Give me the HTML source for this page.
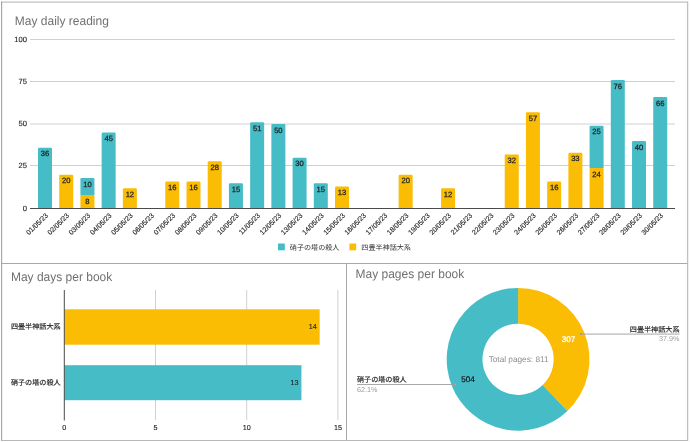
<!DOCTYPE html>
<html><head><meta charset="utf-8"><style>
html,body{margin:0;padding:0;background:#fff;}
body{width:690px;height:442px;overflow:hidden;position:relative;}
svg{position:absolute;left:0;top:0;display:block;will-change:transform;}
text{font-family:"Liberation Sans","Noto Sans CJK JP",Arial,sans-serif;text-rendering:geometricPrecision;}
.b{stroke:#222;stroke-width:0.3px;paint-order:stroke;}
.cjk.b{stroke-width:0.15px;}
.d{stroke-width:0.14px;}
.y{stroke-width:0.12px;}
.v{stroke-width:0.25px;}
.cjk{font-family:"Liberation Sans","Noto Sans CJK JP",sans-serif;}
</style></head><body>
<svg width="690" height="442" viewBox="0 0 690 442">
<rect x="0" y="0" width="690" height="442" fill="#fff"/>

<g fill="none" stroke="#a8a8a8" stroke-width="1">
<line x1="1" y1="2.2" x2="688" y2="2.2" stroke="#c0c0c0" stroke-width="1.3"/>
<line x1="1.6" y1="1.5" x2="1.6" y2="441" stroke="#a8a8a8" stroke-width="1.2"/>
<line x1="687.6" y1="1.5" x2="687.6" y2="441" stroke="#c0c0c0" stroke-width="1.3"/>
<line x1="1.5" y1="263.5" x2="687.5" y2="263.5" stroke="#a8a8a8"/>
<line x1="346.5" y1="263.5" x2="346.5" y2="441" stroke="#a8a8a8"/>
<line x1="1.5" y1="440.5" x2="687.5" y2="440.5" stroke="#b8b8b8"/>
</g>
<text transform="translate(14.8 24.6) scale(1 1.04)" font-size="12" fill="#707070">May daily reading</text>
<text x="26.9" y="210.90" font-size="7.6" fill="#222" class="b y" text-anchor="end">0</text>
<line x1="30" y1="165.50" x2="675" y2="165.50" stroke="#d0d0d0" stroke-width="1"/>
<text x="26.9" y="167.90" font-size="7.6" fill="#222" class="b y" text-anchor="end">25</text>
<line x1="30" y1="124.00" x2="675" y2="124.00" stroke="#d0d0d0" stroke-width="1"/>
<text x="26.9" y="126.40" font-size="7.6" fill="#222" class="b y" text-anchor="end">50</text>
<line x1="30" y1="81.50" x2="675" y2="81.50" stroke="#d0d0d0" stroke-width="1"/>
<text x="26.9" y="83.90" font-size="7.6" fill="#222" class="b y" text-anchor="end">75</text>
<line x1="30" y1="39.50" x2="675" y2="39.50" stroke="#d0d0d0" stroke-width="1"/>
<text x="26.9" y="41.90" font-size="7.6" fill="#222" class="b y" text-anchor="end">100</text>
<path d="M38.00,208.00 V148.86 Q38.00,147.66 39.20,147.66 H50.80 Q52.00,147.66 52.00,148.86 V208.00 Z" fill="#46bdc6"/>
<text x="45.00" y="156.26" font-size="7.6" fill="#222" class="b v" text-anchor="middle">36</text>
<path d="M59.22,208.00 V175.90 Q59.22,174.70 60.42,174.70 H72.02 Q73.22,174.70 73.22,175.90 V208.00 Z" fill="#fbbc04"/>
<text x="66.22" y="183.30" font-size="7.6" fill="#222" class="b v" text-anchor="middle">20</text>
<rect x="80.43" y="194.98" width="14" height="13.02" fill="#fbbc04"/>
<text x="87.43" y="203.58" font-size="7.6" fill="#222" class="b v" text-anchor="middle">8</text>
<path d="M80.43,194.98 V179.28 Q80.43,178.08 81.63,178.08 H93.23 Q94.43,178.08 94.43,179.28 V194.98 Z" fill="#46bdc6"/>
<text x="87.43" y="186.68" font-size="7.6" fill="#222" class="b v" text-anchor="middle">10</text>
<path d="M101.64,208.00 V133.65 Q101.64,132.45 102.84,132.45 H114.44 Q115.64,132.45 115.64,133.65 V208.00 Z" fill="#46bdc6"/>
<text x="108.64" y="141.05" font-size="7.6" fill="#222" class="b v" text-anchor="middle">45</text>
<path d="M122.86,208.00 V189.42 Q122.86,188.22 124.06,188.22 H135.66 Q136.86,188.22 136.86,189.42 V208.00 Z" fill="#fbbc04"/>
<text x="129.86" y="196.82" font-size="7.6" fill="#222" class="b v" text-anchor="middle">12</text>
<path d="M165.29,208.00 V182.66 Q165.29,181.46 166.49,181.46 H178.09 Q179.29,181.46 179.29,182.66 V208.00 Z" fill="#fbbc04"/>
<text x="172.29" y="190.06" font-size="7.6" fill="#222" class="b v" text-anchor="middle">16</text>
<path d="M186.50,208.00 V182.66 Q186.50,181.46 187.70,181.46 H199.31 Q200.50,181.46 200.50,182.66 V208.00 Z" fill="#fbbc04"/>
<text x="193.50" y="190.06" font-size="7.6" fill="#222" class="b v" text-anchor="middle">16</text>
<path d="M207.72,208.00 V162.38 Q207.72,161.18 208.92,161.18 H220.52 Q221.72,161.18 221.72,162.38 V208.00 Z" fill="#fbbc04"/>
<text x="214.72" y="169.78" font-size="7.6" fill="#222" class="b v" text-anchor="middle">28</text>
<path d="M228.94,208.00 V184.35 Q228.94,183.15 230.13,183.15 H241.74 Q242.94,183.15 242.94,184.35 V208.00 Z" fill="#46bdc6"/>
<text x="235.94" y="191.75" font-size="7.6" fill="#222" class="b v" text-anchor="middle">15</text>
<path d="M250.15,208.00 V123.51 Q250.15,122.31 251.35,122.31 H262.95 Q264.15,122.31 264.15,123.51 V208.00 Z" fill="#46bdc6"/>
<text x="257.15" y="130.91" font-size="7.6" fill="#222" class="b v" text-anchor="middle">51</text>
<path d="M271.37,208.00 V125.20 Q271.37,124.00 272.56,124.00 H284.17 Q285.37,124.00 285.37,125.20 V208.00 Z" fill="#46bdc6"/>
<text x="278.37" y="132.60" font-size="7.6" fill="#222" class="b v" text-anchor="middle">50</text>
<path d="M292.58,208.00 V159.00 Q292.58,157.80 293.78,157.80 H305.38 Q306.58,157.80 306.58,159.00 V208.00 Z" fill="#46bdc6"/>
<text x="299.58" y="166.40" font-size="7.6" fill="#222" class="b v" text-anchor="middle">30</text>
<path d="M313.80,208.00 V184.35 Q313.80,183.15 315.00,183.15 H326.60 Q327.80,183.15 327.80,184.35 V208.00 Z" fill="#46bdc6"/>
<text x="320.80" y="191.75" font-size="7.6" fill="#222" class="b v" text-anchor="middle">15</text>
<path d="M335.01,208.00 V187.73 Q335.01,186.53 336.21,186.53 H347.81 Q349.01,186.53 349.01,187.73 V208.00 Z" fill="#fbbc04"/>
<text x="342.01" y="195.13" font-size="7.6" fill="#222" class="b v" text-anchor="middle">13</text>
<path d="M398.65,208.00 V175.90 Q398.65,174.70 399.85,174.70 H411.45 Q412.65,174.70 412.65,175.90 V208.00 Z" fill="#fbbc04"/>
<text x="405.65" y="183.30" font-size="7.6" fill="#222" class="b v" text-anchor="middle">20</text>
<path d="M441.08,208.00 V189.42 Q441.08,188.22 442.28,188.22 H453.88 Q455.08,188.22 455.08,189.42 V208.00 Z" fill="#fbbc04"/>
<text x="448.08" y="196.82" font-size="7.6" fill="#222" class="b v" text-anchor="middle">12</text>
<path d="M504.73,208.00 V155.62 Q504.73,154.42 505.93,154.42 H517.53 Q518.73,154.42 518.73,155.62 V208.00 Z" fill="#fbbc04"/>
<text x="511.73" y="163.02" font-size="7.6" fill="#222" class="b v" text-anchor="middle">32</text>
<path d="M525.94,208.00 V113.37 Q525.94,112.17 527.14,112.17 H538.74 Q539.94,112.17 539.94,113.37 V208.00 Z" fill="#fbbc04"/>
<text x="532.94" y="120.77" font-size="7.6" fill="#222" class="b v" text-anchor="middle">57</text>
<path d="M547.16,208.00 V182.66 Q547.16,181.46 548.36,181.46 H559.96 Q561.16,181.46 561.16,182.66 V208.00 Z" fill="#fbbc04"/>
<text x="554.16" y="190.06" font-size="7.6" fill="#222" class="b v" text-anchor="middle">16</text>
<path d="M568.38,208.00 V153.93 Q568.38,152.73 569.58,152.73 H581.17 Q582.38,152.73 582.38,153.93 V208.00 Z" fill="#fbbc04"/>
<text x="575.38" y="161.33" font-size="7.6" fill="#222" class="b v" text-anchor="middle">33</text>
<rect x="589.59" y="167.94" width="14" height="40.06" fill="#fbbc04"/>
<text x="596.59" y="176.54" font-size="7.6" fill="#222" class="b v" text-anchor="middle">24</text>
<path d="M589.59,167.94 V126.89 Q589.59,125.69 590.79,125.69 H602.39 Q603.59,125.69 603.59,126.89 V167.94 Z" fill="#46bdc6"/>
<text x="596.59" y="134.29" font-size="7.6" fill="#222" class="b v" text-anchor="middle">25</text>
<path d="M610.80,208.00 V81.26 Q610.80,80.06 612.00,80.06 H623.60 Q624.80,80.06 624.80,81.26 V208.00 Z" fill="#46bdc6"/>
<text x="617.80" y="88.66" font-size="7.6" fill="#222" class="b v" text-anchor="middle">76</text>
<path d="M632.02,208.00 V142.10 Q632.02,140.90 633.22,140.90 H644.82 Q646.02,140.90 646.02,142.10 V208.00 Z" fill="#46bdc6"/>
<text x="639.02" y="149.50" font-size="7.6" fill="#222" class="b v" text-anchor="middle">40</text>
<path d="M653.24,208.00 V98.16 Q653.24,96.96 654.44,96.96 H666.03 Q667.24,96.96 667.24,98.16 V208.00 Z" fill="#46bdc6"/>
<text x="660.24" y="105.56" font-size="7.6" fill="#222" class="b v" text-anchor="middle">66</text>
<line x1="30" y1="208.5" x2="675" y2="208.5" stroke="#4a4a4a" stroke-width="1"/>
<text x="48.40" y="216.10" font-size="7.0" fill="#222" class="b d" text-anchor="end" transform="rotate(-45 48.40 216.10)">01/05/23</text>
<text x="69.62" y="216.10" font-size="7.0" fill="#222" class="b d" text-anchor="end" transform="rotate(-45 69.62 216.10)">02/05/23</text>
<text x="90.83" y="216.10" font-size="7.0" fill="#222" class="b d" text-anchor="end" transform="rotate(-45 90.83 216.10)">03/05/23</text>
<text x="112.05" y="216.10" font-size="7.0" fill="#222" class="b d" text-anchor="end" transform="rotate(-45 112.05 216.10)">04/05/23</text>
<text x="133.26" y="216.10" font-size="7.0" fill="#222" class="b d" text-anchor="end" transform="rotate(-45 133.26 216.10)">05/05/23</text>
<text x="154.47" y="216.10" font-size="7.0" fill="#222" class="b d" text-anchor="end" transform="rotate(-45 154.47 216.10)">06/05/23</text>
<text x="175.69" y="216.10" font-size="7.0" fill="#222" class="b d" text-anchor="end" transform="rotate(-45 175.69 216.10)">07/05/23</text>
<text x="196.91" y="216.10" font-size="7.0" fill="#222" class="b d" text-anchor="end" transform="rotate(-45 196.91 216.10)">08/05/23</text>
<text x="218.12" y="216.10" font-size="7.0" fill="#222" class="b d" text-anchor="end" transform="rotate(-45 218.12 216.10)">09/05/23</text>
<text x="239.34" y="216.10" font-size="7.0" fill="#222" class="b d" text-anchor="end" transform="rotate(-45 239.34 216.10)">10/05/23</text>
<text x="260.55" y="216.10" font-size="7.0" fill="#222" class="b d" text-anchor="end" transform="rotate(-45 260.55 216.10)">11/05/23</text>
<text x="281.76" y="216.10" font-size="7.0" fill="#222" class="b d" text-anchor="end" transform="rotate(-45 281.76 216.10)">12/05/23</text>
<text x="302.98" y="216.10" font-size="7.0" fill="#222" class="b d" text-anchor="end" transform="rotate(-45 302.98 216.10)">13/05/23</text>
<text x="324.19" y="216.10" font-size="7.0" fill="#222" class="b d" text-anchor="end" transform="rotate(-45 324.19 216.10)">14/05/23</text>
<text x="345.41" y="216.10" font-size="7.0" fill="#222" class="b d" text-anchor="end" transform="rotate(-45 345.41 216.10)">15/05/23</text>
<text x="366.62" y="216.10" font-size="7.0" fill="#222" class="b d" text-anchor="end" transform="rotate(-45 366.62 216.10)">16/05/23</text>
<text x="387.84" y="216.10" font-size="7.0" fill="#222" class="b d" text-anchor="end" transform="rotate(-45 387.84 216.10)">17/05/23</text>
<text x="409.05" y="216.10" font-size="7.0" fill="#222" class="b d" text-anchor="end" transform="rotate(-45 409.05 216.10)">18/05/23</text>
<text x="430.27" y="216.10" font-size="7.0" fill="#222" class="b d" text-anchor="end" transform="rotate(-45 430.27 216.10)">19/05/23</text>
<text x="451.48" y="216.10" font-size="7.0" fill="#222" class="b d" text-anchor="end" transform="rotate(-45 451.48 216.10)">20/05/23</text>
<text x="472.70" y="216.10" font-size="7.0" fill="#222" class="b d" text-anchor="end" transform="rotate(-45 472.70 216.10)">21/05/23</text>
<text x="493.91" y="216.10" font-size="7.0" fill="#222" class="b d" text-anchor="end" transform="rotate(-45 493.91 216.10)">22/05/23</text>
<text x="515.13" y="216.10" font-size="7.0" fill="#222" class="b d" text-anchor="end" transform="rotate(-45 515.13 216.10)">23/05/23</text>
<text x="536.34" y="216.10" font-size="7.0" fill="#222" class="b d" text-anchor="end" transform="rotate(-45 536.34 216.10)">24/05/23</text>
<text x="557.56" y="216.10" font-size="7.0" fill="#222" class="b d" text-anchor="end" transform="rotate(-45 557.56 216.10)">25/05/23</text>
<text x="578.77" y="216.10" font-size="7.0" fill="#222" class="b d" text-anchor="end" transform="rotate(-45 578.77 216.10)">26/05/23</text>
<text x="599.99" y="216.10" font-size="7.0" fill="#222" class="b d" text-anchor="end" transform="rotate(-45 599.99 216.10)">27/05/23</text>
<text x="621.20" y="216.10" font-size="7.0" fill="#222" class="b d" text-anchor="end" transform="rotate(-45 621.20 216.10)">28/05/23</text>
<text x="642.42" y="216.10" font-size="7.0" fill="#222" class="b d" text-anchor="end" transform="rotate(-45 642.42 216.10)">29/05/23</text>
<text x="663.63" y="216.10" font-size="7.0" fill="#222" class="b d" text-anchor="end" transform="rotate(-45 663.63 216.10)">30/05/23</text>
<rect x="278" y="243.5" width="6.8" height="6.8" fill="#46bdc6"/>
<text class="cjk" x="289.8" y="250" font-size="7.1" fill="#333">硝子の塔の殺人</text>
<rect x="349.4" y="243.5" width="6.8" height="6.8" fill="#fbbc04"/>
<text class="cjk" x="361.3" y="250" font-size="7.1" fill="#333">四畳半神話大系</text>
<text transform="translate(10.9 281.3) scale(1 1.04)" font-size="12" fill="#707070">May days per book</text>
<line x1="155.50" y1="290" x2="155.50" y2="420" stroke="#d0d0d0" stroke-width="1"/>
<line x1="246.70" y1="290" x2="246.70" y2="420" stroke="#d0d0d0" stroke-width="1"/>
<line x1="337.90" y1="290" x2="337.90" y2="420" stroke="#d0d0d0" stroke-width="1"/>
<text x="64.30" y="429.7" font-size="7.2" fill="#222" class="b y" text-anchor="middle">0</text>
<text x="155.50" y="429.7" font-size="7.2" fill="#222" class="b y" text-anchor="middle">5</text>
<text x="246.70" y="429.7" font-size="7.2" fill="#222" class="b y" text-anchor="middle">10</text>
<text x="337.90" y="429.7" font-size="7.2" fill="#222" class="b y" text-anchor="middle">15</text>
<rect x="64.3" y="309.3" width="255.36" height="35.4" fill="#fbbc04"/>
<rect x="64.3" y="365.2" width="237.12" height="35" fill="#46bdc6"/>
<text x="316.86" y="329.4" font-size="7.2" fill="#222" class="b y" text-anchor="end">14</text>
<text x="298.62" y="384.6" font-size="7.2" fill="#222" class="b y" text-anchor="end">13</text>
<line x1="64.3" y1="290" x2="64.3" y2="420.5" stroke="#4a4a4a" stroke-width="1"/>
<text class="cjk b" x="60.6" y="329.3" font-size="7.1" fill="#222" text-anchor="end">四畳半神話大系</text>
<text class="cjk b" x="60.6" y="384.5" font-size="7.1" fill="#222" text-anchor="end">硝子の塔の殺人</text>
<text transform="translate(355.5 277.6) scale(1 1.04)" font-size="12" fill="#707070">May pages per book</text>
<path d="M518.1,287.9 A71.4,71.4 0 0 1 567.45,410.90 L542.71,385.03 A35.6,35.6 0 0 0 518.1,323.7 Z" fill="#fbbc04"/>
<path d="M567.45,410.90 A71.4,71.4 0 1 1 518.1,287.9 L518.1,323.7 A35.6,35.6 0 1 0 542.71,385.03 Z" fill="#46bdc6"/>
<text x="518.6" y="362" font-size="8.25" fill="#8e8e8e" text-anchor="middle">Total pages: 811</text>
<text x="568.4" y="341.8" font-size="8.1" fill="#fff" stroke="#fff" stroke-width="0.35" text-anchor="middle">307</text>
<text x="468.1" y="382" font-size="8.1" fill="#111" stroke="#111" stroke-width="0.18" text-anchor="middle">504</text>
<line x1="580.5" y1="334.1" x2="679.5" y2="334.1" stroke="#9e9e9e" stroke-width="0.9"/>
<circle cx="581" cy="334.1" r="1" fill="#8aa0c0"/>
<text class="cjk b" x="679.5" y="331.6" font-size="7.1" fill="#222" text-anchor="end">四畳半神話大系</text>
<text x="679.5" y="341.2" font-size="7.25" fill="#9e9e9e" text-anchor="end">37.9%</text>
<line x1="357" y1="384.5" x2="455.5" y2="384.5" stroke="#9e9e9e" stroke-width="0.9"/>
<circle cx="455.2" cy="384.5" r="1" fill="#c09a9a"/>
<text class="cjk b" x="357" y="381.8" font-size="7.1" fill="#222">硝子の塔の殺人</text>
<text x="357" y="391.7" font-size="7.25" fill="#9e9e9e">62.1%</text>
</svg></body></html>
